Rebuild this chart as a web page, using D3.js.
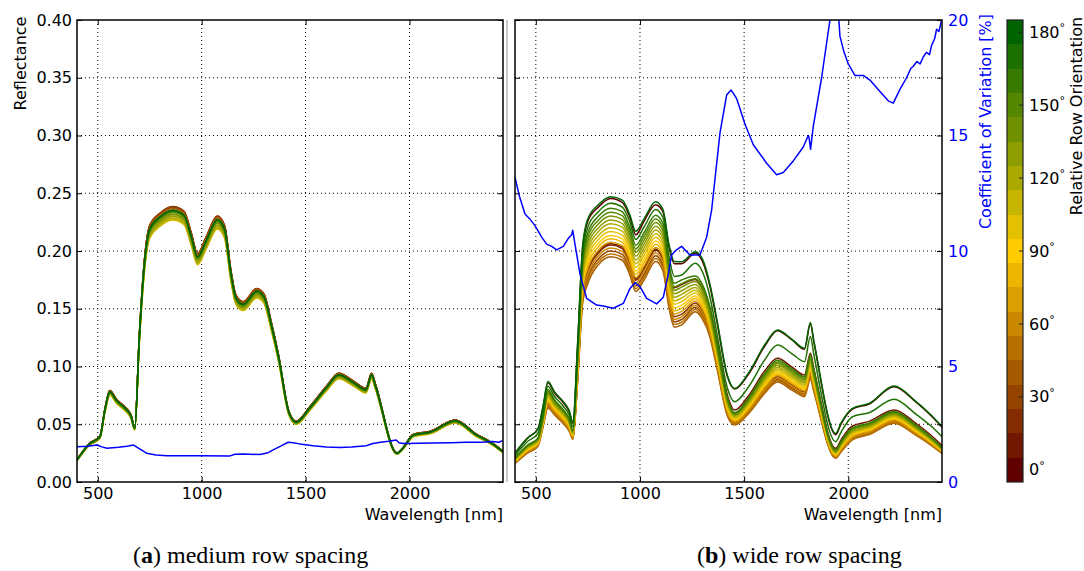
<!DOCTYPE html>
<html>
<head>
<meta charset="utf-8">
<script src="https://cdn.jsdelivr.net/npm/d3@7/dist/d3.min.js"></script>
<style>
  html, body { margin: 0; padding: 0; background: #fff; }
  svg { display: block; }
</style>
</head>
<body>
<svg id="chart" width="1084" height="571"></svg>
<script>
// Sampled wavelengths (nm) of the reflectance spectra
const wavelengths = [400,460,510,535,558,590,630,660,678,700,725,750,800,860,915,950,980,1020,1075,1110,1140,1165,1200,1265,1300,1335,1370,1420,1455,1520,1600,1660,1730,1790,1818,1835,1940,1965,2020,2100,2220,2320,2400,2450];

// Relative row orientation (degrees) of each spectrum
const orientations = [0,10,20,30,40,50,60,70,80,90,100,110,120,130,140,150,160,170,180];

// Reflectance, medium row spacing: one row per wavelength, one column per orientation
const mediumReflectance = [
  [.0193,.0193,.0193,.0193,.0192,.0191,.0189,.0188,.0186,.0185,.0184,.0184,.0185,.0187,.0188,.0189,.019,.019,.0191],
  [.0335,.0335,.0336,.0335,.0333,.0331,.0329,.0326,.0323,.0321,.0319,.032,.0322,.0324,.0326,.0328,.033,.0331,.0331],
  [.0395,.0396,.0397,.0396,.0394,.0392,.0388,.0385,.0382,.0379,.0377,.0378,.038,.0383,.0386,.0388,.039,.0391,.0391],
  [.0639,.064,.0641,.0639,.0636,.0633,.0627,.0622,.0617,.0612,.0609,.061,.0614,.0619,.0623,.0627,.063,.0631,.0632],
  [.0791,.0792,.0793,.0792,.0788,.0783,.0777,.0771,.0764,.0758,.0754,.0756,.0761,.0766,.0771,.0776,.078,.0782,.0782],
  [.0715,.0716,.0717,.0716,.0712,.0708,.0702,.0697,.0691,.0685,.0682,.0683,.0687,.0692,.0697,.0701,.0705,.0706,.0707],
  [.0649,.065,.0651,.065,.0646,.0643,.0637,.0632,.0627,.0622,.0619,.062,.0624,.0628,.0633,.0637,.064,.0641,.0642],
  [.0578,.0579,.058,.0579,.0576,.0572,.0568,.0563,.0559,.0554,.0551,.0552,.0556,.056,.0564,.0567,.057,.0571,.0572],
  [.0472,.0472,.0473,.0472,.047,.0467,.0463,.0459,.0456,.0452,.045,.0451,.0453,.0457,.046,.0463,.0465,.0466,.0466],
  [.1268,.127,.1271,.1269,.1263,.1255,.1245,.1235,.1225,.1215,.1209,.1211,.1219,.1228,.1236,.1244,.125,.1253,.1254],
  [.1927,.193,.1932,.1929,.1919,.1908,.1892,.1877,.1862,.1847,.1837,.1841,.1853,.1866,.1879,.1891,.19,.1904,.1906],
  [.2216,.222,.2222,.2218,.2207,.2194,.2176,.2159,.2141,.2124,.2113,.2117,.213,.2146,.2161,.2174,.2185,.2189,.2192],
  [.2322,.2327,.2329,.2324,.2313,.2299,.2281,.2263,.2244,.2226,.2214,.2219,.2233,.2249,.2265,.2279,.229,.2295,.2297],
  [.2378,.2383,.2385,.238,.2368,.2354,.2336,.2317,.2298,.2279,.2268,.2272,.2286,.2303,.2319,.2333,.2345,.235,.2352],
  [.2337,.2342,.2344,.234,.2328,.2314,.2296,.2277,.2259,.224,.2229,.2234,.2247,.2264,.228,.2293,.2305,.231,.2312],
  [.215,.2154,.2156,.2152,.2141,.2128,.2112,.2095,.2078,.2061,.205,.2054,.2067,.2082,.2097,.2109,.212,.2124,.2126],
  [.1972,.1976,.1978,.1974,.1964,.1953,.1937,.1922,.1906,.1891,.1881,.1885,.1896,.191,.1924,.1935,.1945,.1949,.1951],
  [.2109,.2113,.2115,.2111,.2101,.2088,.2072,.2055,.2038,.2022,.2011,.2016,.2028,.2043,.2057,.207,.208,.2084,.2086],
  [.2297,.2301,.2304,.2299,.2288,.2274,.2256,.2238,.222,.2202,.219,.2195,.2208,.2224,.224,.2254,.2265,.227,.2272],
  [.2216,.222,.2222,.2218,.2207,.2194,.2176,.2159,.2141,.2124,.2113,.2117,.213,.2146,.2161,.2174,.2185,.2189,.2192],
  [.1835,.1839,.1841,.1837,.1828,.1817,.1803,.1788,.1774,.1759,.175,.1754,.1765,.1777,.179,.1801,.181,.1814,.1815],
  [.1612,.1615,.1617,.1614,.1606,.1596,.1584,.1571,.1558,.1545,.1538,.1541,.155,.1561,.1573,.1582,.159,.1593,.1595],
  [.1557,.156,.1561,.1558,.155,.1541,.1529,.1517,.1504,.1492,.1484,.1487,.1497,.1507,.1518,.1527,.1535,.1538,.154],
  [.1671,.1674,.1676,.1673,.1664,.1655,.1641,.1628,.1615,.1602,.1594,.1597,.1607,.1618,.163,.164,.1648,.1651,.1653],
  [.1622,.1626,.1627,.1624,.1616,.1606,.1594,.1581,.1568,.1555,.1547,.155,.156,.1571,.1582,.1592,.16,.1603,.1605],
  [.1379,.1382,.1383,.138,.1374,.1365,.1355,.1344,.1333,.1322,.1315,.1318,.1326,.1336,.1345,.1353,.136,.1363,.1364],
  [.1095,.1097,.1098,.1096,.1091,.1084,.1076,.1067,.1058,.105,.1044,.1047,.1053,.1061,.1068,.1075,.108,.1082,.1083],
  [.0608,.061,.061,.0609,.0606,.0602,.0598,.0593,.0588,.0583,.058,.0581,.0585,.0589,.0593,.0597,.06,.0601,.0602],
  [.0524,.0525,.0526,.0525,.0522,.0519,.0515,.0511,.0507,.0503,.05,.0501,.0504,.0508,.0511,.0514,.0517,.0518,.0519],
  [.0649,.065,.0651,.065,.0646,.0643,.0637,.0632,.0627,.0622,.0619,.062,.0624,.0628,.0633,.0637,.064,.0641,.0642],
  [.0826,.0828,.0829,.0827,.0823,.0818,.0812,.0805,.0799,.0792,.0788,.079,.0795,.08,.0806,.0811,.0815,.0817,.0817],
  [.0939,.0941,.0942,.094,.0935,.093,.0922,.0915,.0907,.09,.0895,.0897,.0903,.0909,.0916,.0921,.0926,.0928,.0929],
  [.0872,.0874,.0875,.0873,.0869,.0863,.0857,.085,.0843,.0836,.0831,.0833,.0838,.0844,.085,.0856,.086,.0862,.0863],
  [.0808,.081,.0811,.0809,.0805,.08,.0794,.0787,.0781,.0775,.0771,.0772,.0777,.0783,.0788,.0793,.0797,.0799,.0799],
  [.0939,.0941,.0942,.094,.0935,.093,.0922,.0915,.0907,.09,.0895,.0897,.0903,.0909,.0916,.0921,.0926,.0928,.0929],
  [.0852,.0853,.0854,.0853,.0848,.0843,.0837,.083,.0823,.0816,.0812,.0814,.0819,.0825,.0831,.0836,.084,.0842,.0843],
  [.0251,.0252,.0252,.0252,.025,.0249,.0247,.0245,.0243,.0241,.024,.024,.0242,.0244,.0245,.0247,.0248,.0248,.0249],
  [.0289,.029,.029,.0289,.0288,.0286,.0284,.0282,.0279,.0277,.0276,.0276,.0278,.028,.0282,.0284,.0285,.0286,.0286],
  [.0413,.0414,.0414,.0413,.0411,.0409,.0405,.0402,.0399,.0396,.0394,.0394,.0397,.04,.0403,.0405,.0407,.0408,.0408],
  [.0438,.0439,.0439,.0438,.0436,.0434,.043,.0427,.0423,.042,.0418,.0419,.0421,.0424,.0427,.043,.0432,.0433,.0433],
  [.0535,.0536,.0537,.0536,.0533,.053,.0526,.0522,.0517,.0513,.0511,.0512,.0515,.0518,.0522,.0525,.0528,.0529,.053],
  [.0416,.0417,.0417,.0416,.0414,.0412,.0408,.0405,.0402,.0399,.0396,.0397,.04,.0403,.0405,.0408,.041,.0411,.0411],
  [.0335,.0335,.0336,.0335,.0333,.0331,.0329,.0326,.0323,.0321,.0319,.032,.0322,.0324,.0326,.0328,.033,.0331,.0331],
  [.0266,.0266,.0266,.0266,.0265,.0263,.0261,.0259,.0257,.0255,.0253,.0254,.0255,.0257,.0259,.0261,.0262,.0263,.0263]
];

// Reflectance, wide row spacing: one row per wavelength, one column per orientation
const wideReflectance = [
  [.025,.020,.0172,.0166,.016,.0163,.0169,.0175,.0179,.0182,.0186,.019,.0194,.0198,.0202,.0206,.021,.023,.025],
  [.038,.0306,.0267,.0258,.025,.0254,.0263,.0271,.0276,.0281,.0286,.0292,.0298,.0303,.0309,.0314,.032,.035,.038],
  [.046,.0366,.0327,.0318,.031,.0314,.0323,.0331,.0336,.0341,.0346,.0352,.0358,.0363,.0369,.0374,.038,.042,.046],
  [.065,.0552,.0502,.0491,.048,.0485,.0496,.0507,.0513,.052,.0527,.0534,.0541,.0548,.0556,.0563,.057,.061,.066],
  [.086,.0768,.0678,.0659,.064,.065,.0669,.0688,.0699,.071,.0723,.0736,.0749,.0762,.0774,.0787,.08,.083,.087],
  [.077,.0684,.0611,.0596,.058,.0588,.0603,.0619,.0628,.0637,.0648,.0658,.0668,.0679,.0689,.07,.071,.074,.078],
  [.069,.0606,.0539,.0524,.051,.0517,.0532,.0546,.0554,.0563,.0572,.0582,.0592,.0601,.0611,.062,.063,.066,.07],
  [.061,.0528,.0466,.0453,.044,.0447,.046,.0473,.0481,.0488,.0497,.0506,.0515,.0524,.0532,.0541,.055,.058,.062],
  [.051,.0434,.0389,.038,.037,.0375,.0384,.0394,.04,.0405,.0412,.0418,.0424,.0431,.0437,.0444,.045,.048,.052],
  [.116,.0965,.0905,.0878,.085,.0864,.0891,.0919,.0935,.0951,.097,.0988,.1006,.1025,.1043,.1062,.108,.113,.118],
  [.203,.1653,.1641,.1596,.155,.1573,.1618,.1664,.1691,.1717,.1748,.1778,.1808,.1839,.1869,.19,.193,.198,.205],
  [.226,.1839,.1826,.1773,.172,.1746,.1799,.1852,.1883,.1914,.1949,.1984,.2019,.2054,.209,.2125,.216,.221,.228],
  [.238,.1993,.1981,.193,.188,.1905,.1956,.2006,.2035,.2065,.2098,.2132,.2166,.2199,.2233,.2266,.23,.234,.24],
  [.2455,.2063,.2051,.2,.195,.1975,.2026,.2076,.2105,.2135,.2168,.2202,.2236,.2269,.2303,.2336,.237,.2413,.247],
  [.242,.2033,.2021,.197,.192,.1945,.1996,.2046,.2075,.2105,.2138,.2172,.2206,.2239,.2273,.2306,.234,.238,.244],
  [.23,.1911,.1898,.1849,.18,.1825,.1874,.1923,.1952,.198,.2013,.2046,.2079,.2112,.2144,.2177,.221,.226,.232],
  [.214,.1758,.1746,.1698,.165,.1674,.1722,.177,.1798,.1826,.1858,.189,.1922,.1954,.1986,.2018,.205,.21,.217],
  [.226,.1861,.1848,.1799,.175,.1775,.1824,.1873,.1902,.193,.1963,.1996,.2029,.2062,.2094,.2127,.216,.221,.228],
  [.24,.2018,.2006,.1958,.191,.1934,.1982,.203,.2058,.2086,.2118,.215,.2182,.2214,.2246,.2278,.231,.236,.2427],
  [.234,.1941,.1928,.1879,.183,.1855,.1904,.1953,.1982,.201,.2043,.2076,.2109,.2142,.2174,.2207,.224,.229,.236],
  [.203,.169,.1591,.1546,.15,.1523,.1568,.1614,.1641,.1667,.1698,.1728,.1758,.1789,.1819,.185,.188,.195,.205],
  [.189,.1682,.1431,.1386,.134,.1363,.1408,.1454,.1481,.1507,.1538,.1568,.1598,.1629,.1659,.169,.172,.178,.191],
  [.189,.171,.1453,.1407,.136,.1383,.143,.1477,.1504,.1531,.1562,.1593,.1625,.1656,.1687,.1718,.1749,.1792,.1908],
  [.198,.1753,.1549,.1512,.1475,.1494,.1531,.1568,.1589,.1611,.1636,.166,.1685,.171,.1735,.1759,.1784,.1893,.1994],
  [.191,.168,.1482,.1446,.141,.1428,.1464,.15,.1521,.1542,.1566,.159,.1614,.1638,.1662,.1686,.171,.182,.193],
  [.17,.1515,.1322,.1291,.126,.1276,.1307,.1338,.1356,.1374,.1395,.1416,.1437,.1458,.1478,.1499,.152,.161,.172],
  [.138,.1215,.1033,.1006,.098,.0993,.102,.1046,.1061,.1077,.1094,.1112,.113,.1147,.1165,.1182,.12,.128,.14],
  [.091,.075,.0608,.0589,.057,.058,.0599,.0618,.0629,.064,.0653,.0666,.0679,.0692,.0704,.0717,.073,.081,.092],
  [.0805,.0623,.0519,.0507,.0494,.05,.0513,.0526,.0533,.0541,.0549,.0558,.0566,.0575,.0583,.0592,.06,.0695,.081],
  [.093,.0745,.0622,.0606,.059,.0598,.0614,.063,.064,.0649,.066,.0671,.0682,.0693,.0703,.0714,.0725,.082,.094],
  [.118,.0965,.0812,.0791,.077,.0781,.0802,.0823,.0835,.0847,.0861,.0875,.0889,.0903,.0917,.0931,.0945,.106,.119],
  [.131,.1071,.0911,.0888,.0865,.0876,.0899,.0922,.0935,.0949,.0964,.0979,.0994,.101,.1025,.104,.1055,.1186,.1316],
  [.123,.0995,.0839,.0817,.0795,.0806,.0828,.085,.0863,.0876,.0891,.0906,.0921,.0936,.095,.0965,.098,.111,.1235],
  [.115,.0926,.078,.076,.0739,.0749,.077,.079,.0802,.0814,.0828,.0842,.0855,.0869,.0883,.0896,.091,.1042,.1157],
  [.137,.1114,.094,.0915,.089,.0903,.0928,.0953,.0968,.0982,.0999,.1016,.1033,.105,.1066,.1083,.11,.126,.138],
  [.121,.098,.0824,.0802,.078,.0791,.0813,.0836,.0848,.0861,.0876,.0891,.0906,.092,.0935,.095,.0965,.11,.122],
  [.041,.0292,.0223,.0214,.0205,.021,.0219,.0228,.0233,.0238,.0244,.025,.0256,.0262,.0268,.0274,.028,.0349,.0421],
  [.05,.0365,.0282,.0271,.026,.0265,.0276,.0287,.0293,.03,.0307,.0314,.0321,.0328,.0336,.0343,.035,.043,.051],
  [.063,.0485,.0389,.0377,.0364,.037,.0383,.0396,.0403,.0411,.0419,.0428,.0436,.0445,.0453,.0462,.047,.0565,.0638],
  [.0675,.0525,.0434,.0422,.041,.0416,.0428,.044,.0447,.0454,.0462,.047,.0478,.0486,.0494,.0502,.051,.06,.068],
  [.0825,.0623,.0532,.052,.0508,.0514,.0526,.0539,.0546,.0553,.0561,.0569,.0577,.0586,.0594,.0602,.061,.0716,.0831],
  [.07,.0515,.0432,.0421,.041,.0415,.0426,.0437,.0443,.045,.0457,.0464,.0471,.0478,.0486,.0493,.05,.0595,.0705],
  [.057,.04,.0332,.0323,.0315,.0319,.0328,.0336,.0341,.0346,.0351,.0357,.0363,.0368,.0374,.0379,.0385,.048,.0575],
  [.0475,.0316,.026,.0254,.0248,.0251,.0257,.0264,.0267,.0271,.0275,.0279,.0283,.0288,.0292,.0296,.03,.0392,.0479]
];

// Coefficient of variation (%) across orientations, medium row spacing
const cvMediumWavelengths = [400,450,496,520,544,600,640,672,690,736,780,832,900,1000,1136,1160,1200,1280,1320,1344,1380,1416,1440,1472,1536,1600,1664,1720,1792,1824,1860,1900,1936,1950,1968,2050,2112,2200,2272,2350,2400,2430,2448];
const cvMedium = [1.53,1.55,1.6,1.52,1.46,1.5,1.55,1.6,1.5,1.24,1.17,1.14,1.14,1.14,1.13,1.2,1.21,1.19,1.27,1.39,1.55,1.72,1.70,1.65,1.57,1.52,1.49,1.51,1.57,1.67,1.72,1.76,1.82,1.70,1.67,1.68,1.69,1.70,1.72,1.72,1.75,1.72,1.79];

// Coefficient of variation (%) across orientations, wide row spacing
const cvWideWavelengths = [400,420,448,470,496,528,552,576,600,632,656,672,677,688,712,744,792,824,872,920,952,976,1000,1032,1080,1112,1136,1152,1175,1200,1240,1288,1320,1344,1384,1416,1437,1450,1464,1504,1544,1608,1656,1688,1736,1784,1808,1812,1819,1832,1872,1912,1925,1945,1955,1960,1980,2000,2032,2072,2104,2152,2192,2216,2248,2280,2300,2312,2330,2345,2360,2375,2390,2400,2415,2424,2435,2448];
const cvWide = [13.2,12.4,11.6,11.4,11.1,10.6,10.3,10.2,10.05,10.2,10.55,10.7,10.9,10.3,9.0,7.95,7.66,7.62,7.52,7.73,8.38,8.63,8.46,7.95,7.71,8.0,9.0,9.83,10.05,10.2,9.83,9.83,10.6,11.77,15.1,16.75,16.97,16.8,16.6,15.5,14.6,13.8,13.3,13.4,13.9,14.5,15.0,14.9,14.4,15.4,17.5,20.0,21.5,21.5,20.0,19.3,18.6,18.1,17.6,17.6,17.4,16.9,16.5,16.4,17.0,17.5,17.9,18.0,18.2,18.1,18.4,18.6,18.5,18.9,19.2,19.6,19.5,20.0];

// Tick values
const wavelengthTicks = [500,1000,1500,2000];
const reflectanceTicks = [0,0.05,0.1,0.15,0.2,0.25,0.3,0.35,0.4];
const cvTicks = [0,5,10,15,20];
const orientationTicks = [0,30,60,90,120,150,180];

// ---------------------------------------------------------------------------
const FONT = "'DejaVu Sans', sans-serif";
const TOP = 20, BOTTOM = 482;
const svg = d3.select("#chart");
svg.append("rect").attr("width", 1084).attr("height", 571).attr("fill", "#fff");
const defs = svg.append("defs");

const yRefl = d3.scaleLinear().domain([0, 0.4]).range([BOTTOM, TOP]);
const yCv = d3.scaleLinear().domain([0, 20]).range([BOTTOM, TOP]);
const orientColor = d3.scaleLinear().domain([0, 90, 180]).range(["#600000", "#ffcc00", "#006400"]);

function styleAxis(sel) {
  sel.select(".domain").remove();
  sel.selectAll(".tick line").attr("stroke", "#000").attr("stroke-width", 1);
  sel.selectAll(".tick text").attr("font-size", 16).attr("font-family", FONT).attr("fill", "#000");
}

function drawPanel(key, x0, x1, rows, cvWl, cvVals, leftLabels, cvLabels) {
  const x = d3.scaleLinear().domain([400, 2450]).range([x0, x1]);
  const g = svg.append("g");

  defs.append("clipPath").attr("id", "clip-" + key)
    .append("rect").attr("x", x0).attr("y", TOP).attr("width", x1 - x0).attr("height", BOTTOM - TOP);

  // dotted grid
  const grid = g.append("g").attr("stroke", "#000").attr("stroke-width", 1).attr("stroke-dasharray", "1,3");
  grid.selectAll("line.v").data(wavelengthTicks).join("line").attr("class", "v")
    .attr("x1", d => x(d)).attr("x2", d => x(d)).attr("y1", TOP).attr("y2", BOTTOM);
  grid.selectAll("line.h").data(reflectanceTicks.slice(1, -1)).join("line").attr("class", "h")
    .attr("x1", x0).attr("x2", x1).attr("y1", d => yRefl(d)).attr("y2", d => yRefl(d));

  const plot = g.append("g").attr("clip-path", "url(#clip-" + key + ")");

  // one spectrum per orientation, 0° drawn first
  const series = d3.transpose(rows);
  const spectrum = d3.line()
    .x((d, i) => x(wavelengths[i]))
    .y(d => yRefl(d))
    .curve(d3.curveMonotoneX);
  plot.selectAll("path.spectrum").data(series).join("path").attr("class", "spectrum")
    .attr("fill", "none")
    .attr("stroke", (d, i) => orientColor(orientations[i]))
    .attr("stroke-width", 1.5)
    .attr("stroke-linejoin", "round")
    .attr("d", spectrum);

  // coefficient of variation on the secondary scale
  const cvLine = d3.line().x((d, i) => x(cvWl[i])).y(d => yCv(d));
  plot.append("path").datum(cvVals)
    .attr("fill", "none").attr("stroke", "#0000ff").attr("stroke-width", 1.5)
    .attr("stroke-linejoin", "round").attr("d", cvLine);

  // axes with inward ticks
  g.append("g").attr("transform", `translate(0,${BOTTOM})`)
    .call(d3.axisBottom(x).tickValues(wavelengthTicks).tickSize(-5).tickPadding(6).tickFormat(d3.format("d")))
    .call(styleAxis);
  g.append("g").attr("transform", `translate(0,${TOP})`)
    .call(d3.axisTop(x).tickValues(wavelengthTicks).tickSize(-5).tickFormat(() => ""))
    .call(styleAxis);
  g.append("g").attr("transform", `translate(${x0},0)`)
    .call(d3.axisLeft(yRefl).tickValues(reflectanceTicks).tickSize(-5).tickPadding(5)
      .tickFormat(leftLabels ? d3.format(".2f") : () => ""))
    .call(styleAxis);
  g.append("g").attr("transform", `translate(${x1},0)`)
    .call(d3.axisRight(yRefl).tickValues(reflectanceTicks).tickSize(-5).tickFormat(() => ""))
    .call(styleAxis);
  if (cvLabels) {
    const ax = g.append("g").attr("transform", `translate(${x1},0)`)
      .call(d3.axisRight(yCv).tickValues(cvTicks).tickSize(0).tickPadding(6).tickFormat(d3.format("d")))
      .call(styleAxis);
    ax.selectAll(".tick text").attr("fill", "#0000ff");
  }

  // frame
  g.append("rect").attr("x", x0).attr("y", TOP).attr("width", x1 - x0).attr("height", BOTTOM - TOP)
    .attr("fill", "none").attr("stroke", "#000").attr("stroke-width", 1.5);

  g.append("text").attr("x", x1).attr("y", 520).attr("text-anchor", "end")
    .attr("font-family", FONT).attr("font-size", 16).text("Wavelength [nm]");
}

drawPanel("medium", 77, 503, mediumReflectance, cvMediumWavelengths, cvMedium, true, false);
drawPanel("wide", 515, 942, wideReflectance, cvWideWavelengths, cvWide, false, true);

// light edge between the two panels
svg.append("line").attr("x1", 507).attr("x2", 507).attr("y1", TOP).attr("y2", BOTTOM)
  .attr("stroke", "#c8c8c8").attr("stroke-width", 2);

// axis titles
svg.append("text").attr("transform", "translate(25.5,63.5) rotate(-90)").attr("text-anchor", "middle")
  .attr("font-family", FONT).attr("font-size", 16).text("Reflectance");
svg.append("text").attr("transform", "translate(991,121.5) rotate(-90)").attr("text-anchor", "middle")
  .attr("font-family", FONT).attr("font-size", 16).attr("fill", "#0000ff").text("Coefficient of Variation [%]");
svg.append("text").attr("transform", "translate(1081.5,116) rotate(-90)").attr("text-anchor", "middle")
  .attr("font-family", FONT).attr("font-size", 16).text("Relative Row Orientation");

// discrete colour bar, one band per orientation
const cbX = 1007, cbW = 16;
const cbY = d3.scaleLinear().domain([-5, 185]).range([BOTTOM, TOP]);
const cb = svg.append("g");
cb.selectAll("rect.bin").data(orientations).join("rect").attr("class", "bin")
  .attr("x", cbX).attr("width", cbW)
  .attr("y", d => cbY(d + 5)).attr("height", d => cbY(d - 5) - cbY(d + 5))
  .attr("fill", d => orientColor(d)).attr("shape-rendering", "crispEdges");
cb.append("rect").attr("x", cbX).attr("y", TOP).attr("width", cbW).attr("height", BOTTOM - TOP)
  .attr("fill", "none").attr("stroke", "#222").attr("stroke-width", 1.2);
cb.selectAll("line.tk").data(orientationTicks).join("line").attr("class", "tk")
  .attr("x1", cbX + cbW - 4).attr("x2", cbX + cbW).attr("y1", d => cbY(d)).attr("y2", d => cbY(d))
  .attr("stroke", "#222").attr("stroke-width", 1);
const cbLabels = cb.selectAll("text.lbl").data(orientationTicks).join("text").attr("class", "lbl")
  .attr("x", cbX + cbW + 6).attr("y", d => cbY(d)).attr("dy", "0.35em")
  .attr("font-family", FONT).attr("font-size", 16);
cbLabels.append("tspan").text(d => d);
cbLabels.append("tspan").attr("font-size", 11).attr("dy", "-0.6em").text("°");

// sub-figure captions
const capFont = "'Liberation Serif', 'Times New Roman', serif";
const capA = svg.append("text").attr("x", 133).attr("y", 563).attr("font-family", capFont).attr("font-size", 24);
capA.append("tspan").text("(");
capA.append("tspan").attr("font-weight", "bold").text("a");
capA.append("tspan").text(") medium row spacing");
const capB = svg.append("text").attr("x", 697).attr("y", 563).attr("font-family", capFont).attr("font-size", 24);
capB.append("tspan").text("(");
capB.append("tspan").attr("font-weight", "bold").text("b");
capB.append("tspan").text(") wide row spacing");
</script>
</body>
</html>
